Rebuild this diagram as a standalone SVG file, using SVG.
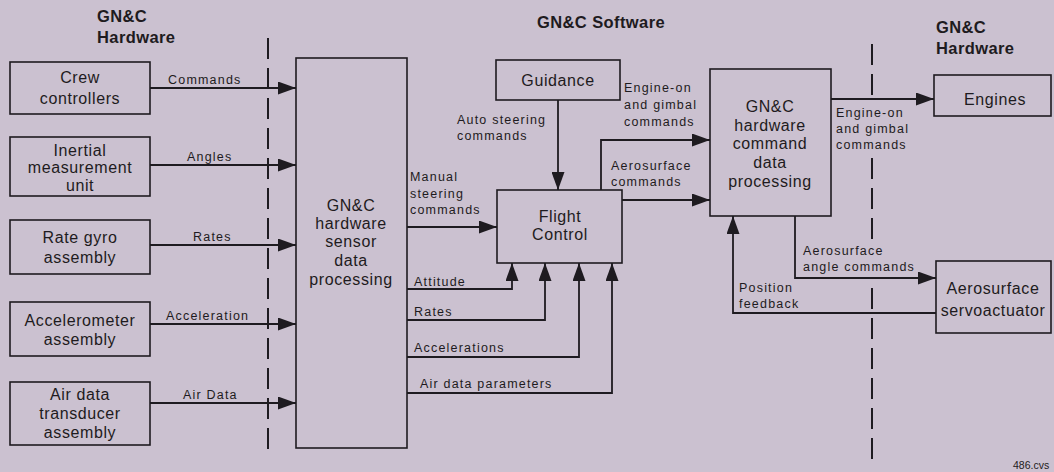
<svg xmlns="http://www.w3.org/2000/svg" width="1054" height="472" viewBox="0 0 1054 472">
<style>
.bg{fill:#cbc1d0}
.box{fill:none;stroke:#1e1b20;stroke-width:1.6}
.t{font-family:"Liberation Sans",Arial,sans-serif;font-size:16px;fill:#1e1b20;text-anchor:middle;letter-spacing:0.6px}
.h{font-family:"Liberation Sans",Arial,sans-serif;font-size:16.5px;font-weight:bold;fill:#1e1b20;letter-spacing:0.4px}
.l{font-family:"Liberation Sans",Arial,sans-serif;font-size:12.5px;fill:#1e1b20;letter-spacing:1.2px}
.c{fill:none;stroke:#1e1b20;stroke-width:1.8}
.d{fill:none;stroke:#1e1b20;stroke-width:2;stroke-dasharray:21 9}
.s{font-family:"Liberation Sans",Arial,sans-serif;font-size:10.5px;fill:#1e1b20}
</style>
<defs>
<marker id="a" markerUnits="userSpaceOnUse" markerWidth="18" markerHeight="13" refX="18" refY="6.5" orient="auto">
<path d="M0,0 L18,6.5 L0,13 z" fill="#1e1b20"/>
</marker>
</defs>
<rect class="bg" x="0" y="0" width="1054" height="472"/>

<g id="titles">
<text class="h" x="97" y="22">GN&amp;C</text>
<text class="h" x="97" y="43">Hardware</text>
<text class="h" x="537" y="28">GN&amp;C Software</text>
<text class="h" x="936" y="33">GN&amp;C</text>
<text class="h" x="936" y="54">Hardware</text>
<text class="s" x="1013" y="469">486.cvs</text>
</g>

<g id="boundaries">
<line class="d" x1="268" y1="38" x2="268" y2="455"/>
<line class="d" x1="872" y1="44" x2="872" y2="100"/>
<line class="d" x1="872" y1="158" x2="872" y2="245"/>
<line class="d" x1="872" y1="288" x2="872" y2="460"/>
</g>

<g id="crew">
<rect class="box" x="10" y="62" width="140" height="52"/>
<text class="t" x="80" y="83">Crew</text>
<text class="t" x="80" y="104">controllers</text>
</g>
<g id="imu">
<rect class="box" x="10" y="137" width="140" height="59"/>
<text class="t" x="80" y="156">Inertial</text>
<text class="t" x="80" y="173">measurement</text>
<text class="t" x="80" y="191">unit</text>
</g>
<g id="rategyro">
<rect class="box" x="10" y="220" width="140" height="54"/>
<text class="t" x="80" y="243">Rate gyro</text>
<text class="t" x="80" y="263">assembly</text>
</g>
<g id="accel">
<rect class="box" x="10" y="302" width="140" height="54"/>
<text class="t" x="80" y="326">Accelerometer</text>
<text class="t" x="80" y="345">assembly</text>
</g>
<g id="airdata">
<rect class="box" x="10" y="382" width="140" height="63"/>
<text class="t" x="80" y="400">Air data</text>
<text class="t" x="80" y="419">transducer</text>
<text class="t" x="80" y="438">assembly</text>
</g>

<g id="sensor">
<rect class="box" x="296" y="58" width="111" height="390"/>
<text class="t" x="351" y="211">GN&amp;C</text>
<text class="t" x="351" y="229">hardware</text>
<text class="t" x="351" y="247">sensor</text>
<text class="t" x="351" y="266">data</text>
<text class="t" x="351" y="285">processing</text>
</g>

<g id="guidance">
<rect class="box" x="496" y="60" width="124" height="40"/>
<text class="t" x="558" y="86">Guidance</text>
</g>

<g id="flightcontrol">
<rect class="box" x="497" y="190" width="125" height="73"/>
<text class="t" x="560" y="222">Flight</text>
<text class="t" x="560" y="240">Control</text>
</g>

<g id="command">
<rect class="box" x="710" y="69" width="121" height="147"/>
<text class="t" x="770" y="112">GN&amp;C</text>
<text class="t" x="770" y="131">hardware</text>
<text class="t" x="770" y="149">command</text>
<text class="t" x="770" y="168">data</text>
<text class="t" x="770" y="187">processing</text>
</g>

<g id="engines">
<rect class="box" x="934" y="75" width="117" height="41"/>
<text class="t" x="995" y="105">Engines</text>
</g>

<g id="servo">
<rect class="box" x="936" y="261" width="115" height="72"/>
<text class="t" x="993" y="294">Aerosurface</text>
<text class="t" x="993" y="316">servoactuator</text>
</g>

<g id="connectors">
<line class="c" x1="150" y1="88" x2="296" y2="88" marker-end="url(#a)"/>
<line class="c" x1="150" y1="165" x2="296" y2="165" marker-end="url(#a)"/>
<line class="c" x1="150" y1="245" x2="296" y2="245" marker-end="url(#a)"/>
<line class="c" x1="150" y1="324" x2="296" y2="324" marker-end="url(#a)"/>
<line class="c" x1="150" y1="403" x2="296" y2="403" marker-end="url(#a)"/>
<line class="c" x1="558" y1="100" x2="558" y2="190" marker-end="url(#a)"/>
<line class="c" x1="407" y1="227" x2="497" y2="227" marker-end="url(#a)"/>
<polyline class="c" points="407,289 512,289 512,263" marker-end="url(#a)"/>
<polyline class="c" points="407,320 545,320 545,263" marker-end="url(#a)"/>
<polyline class="c" points="407,357 579,357 579,263" marker-end="url(#a)"/>
<polyline class="c" points="407,393 612,393 612,263" marker-end="url(#a)"/>
<polyline class="c" points="601,190 601,140 710,140" marker-end="url(#a)"/>
<line class="c" x1="622" y1="200" x2="710" y2="200" marker-end="url(#a)"/>
<line class="c" x1="831" y1="99" x2="934" y2="99" marker-end="url(#a)"/>
<polyline class="c" points="795,216 795,278 936,278" marker-end="url(#a)"/>
<polyline class="c" points="936,313 733,313 733,216" marker-end="url(#a)"/>

<text class="l" x="168" y="84">Commands</text>
<text class="l" x="187" y="161">Angles</text>
<text class="l" x="193" y="241">Rates</text>
<text class="l" x="166" y="320">Acceleration</text>
<text class="l" x="183" y="399">Air Data</text>
<text class="l" x="457" y="124">Auto steering</text>
<text class="l" x="457" y="140">commands</text>
<text class="l" x="624" y="92">Engine-on</text>
<text class="l" x="624" y="109">and gimbal</text>
<text class="l" x="624" y="126">commands</text>
<text class="l" x="611" y="170">Aerosurface</text>
<text class="l" x="611" y="186">commands</text>
<text class="l" x="410" y="181">Manual</text>
<text class="l" x="410" y="198">steering</text>
<text class="l" x="410" y="214">commands</text>
<text class="l" x="414" y="286">Attitude</text>
<text class="l" x="414" y="316">Rates</text>
<text class="l" x="414" y="352">Accelerations</text>
<text class="l" x="420" y="388">Air data parameters</text>
<text class="l" x="836" y="117">Engine-on</text>
<text class="l" x="836" y="133">and gimbal</text>
<text class="l" x="836" y="149">commands</text>
<text class="l" x="803" y="255">Aerosurface</text>
<text class="l" x="803" y="271">angle commands</text>
<text class="l" x="739" y="292">Position</text>
<text class="l" x="739" y="308">feedback</text>
</g>
</svg>
